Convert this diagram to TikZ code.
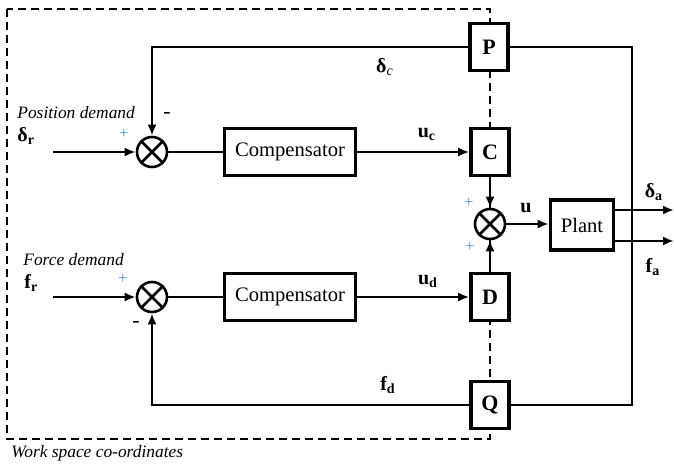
\documentclass[tikz,border=0pt]{standalone}
\usepackage{fontspec}
\setmainfont{Liberation Serif}
\usetikzlibrary{arrows.meta,backgrounds}
\definecolor{plusblue}{rgb}{0.25,0.55,0.85}
\tikzset{
  >={Latex[length=5.5pt,width=4.5pt]},
  block/.style={draw, line width=1.8pt, fill=white, inner sep=0pt, font=\rmfamily\fontsize{10.3}{12}\selectfont},
  gain/.style={block, minimum width=19pt, minimum height=23.5pt, font=\rmfamily\fontsize{11}{13}\selectfont\bfseries},
  comp/.style={block, minimum width=65.5pt, minimum height=23.5pt},
  sumnode/.style={draw, circle, line width=1.3pt, fill=white, minimum size=15pt, inner sep=0pt,
    path picture={\draw[line width=1.3pt]
      (path picture bounding box.north west) -- (path picture bounding box.south east)
      (path picture bounding box.north east) -- (path picture bounding box.south west);}},
  sig/.style={font=\rmfamily\fontsize{10}{12}\selectfont\bfseries, inner sep=0pt},
  note/.style={font=\rmfamily\fontsize{8.7}{10}\selectfont\itshape, inner sep=0pt, anchor=west},
  plus/.style={font=\rmfamily\fontsize{8}{9}\selectfont, text=plusblue, inner sep=0pt},
  minus/.style={font=\rmfamily\fontsize{11}{12}\selectfont, inner sep=0pt},
  wire/.style={line width=1.3pt},
  frame/.style={dash pattern=on 4pt off 2.5pt, line width=0.8pt},
}

\begin{document}
\begin{tikzpicture}[x=0.5pt, y=-0.5pt]
  \useasboundingbox (0,0) rectangle (674,466);
  % summing junctions
  \node[sumnode] (s1) at (152,152) {};
  \node[sumnode] (s2) at (152,297) {};
  \node[sumnode] (s3) at (490,224) {};
  % blocks
  \node[comp] (comp1) at (290,152) {Compensator};
  \node[comp] (comp2) at (290,297) {Compensator};
  \node[gain] (P) at (489,47) {P};
  \node[gain] (C) at (490,152) {C};
  \node[gain] (D) at (490,297) {D};
  \node[gain] (Q) at (490,405) {Q};
  \node[block, minimum width=31.5pt, minimum height=25pt] (plant) at (582,225) {Plant};
  % free ends
  \coordinate (in1) at (53,152);
  \coordinate (in2) at (53,297);
  \coordinate (out1) at (674,210);
  \coordinate (out2) at (674,241);
  \coordinate (rail) at (632,225);
  % work space frame
  \begin{scope}[on background layer]
    \draw[frame] (7,9) rectangle (490,439);
  \end{scope}
  % forward paths
  \draw[wire,->] (in1) -- (s1);
  \draw[wire] (s1) -- (comp1);
  \draw[wire,->] (comp1) -- (C);
  \draw[wire,->] (in2) -- (s2);
  \draw[wire] (s2) -- (comp2);
  \draw[wire,->] (comp2) -- (D);
  \draw[wire,->] (C) -- (s3);
  \draw[wire,->] (D) -- (s3);
  \draw[wire,->] (s3.east) -- (s3.east -| plant.west);
  \draw[wire,->] (plant.east |- out1) -- (out1);
  \draw[wire,->] (plant.east |- out2) -- (out2);
  % feedback paths
  \draw[wire] (P.east) -| (rail) |- (Q.east);
  \draw[wire,->] (P.west) -| (s1.north);
  \draw[wire,->] (Q.west) -| (s2.south);
  % signals
  \node[sig] (uc) at (427,134) {u\textsubscript{c}};
  \node[sig] (ud) at (428,281) {u\textsubscript{d}};
  \node[sig] (u) at (526,208) {u};
  \node[sig] (da) at (654,192) {δ\textsubscript{a}};
  \node[sig] (fa) at (653,267) {f\textsubscript{a}};
  \node[sig] (dc) at (385,67) {δ\textsubscript{\mdseries\itshape c}};
  \node[sig] (fd) at (388,385) {f\textsubscript{d}};
  \node[sig, anchor=west] (dr) at (17,136) {δ\textsubscript{r}};
  \node[sig, anchor=west] (fr) at (24,283) {f\textsubscript{r}};
  \node[note] (posdem) at (17,113) {Position demand};
  \node[note] (forcedem) at (23,260) {Force demand};
  \node[note] (wsc) at (11,453) {Work space co-ordinates};
  % signs
  \node[plus] (p1) at (124,134) {+};
  \node[minus] (m1) at (167,115) {-};
  \node[plus] (p2) at (123,279) {+};
  \node[minus] (m2) at (136,324) {-};
  \node[plus] (p3) at (469,203) {+};
  \node[plus] (p4) at (470,247) {+};
\end{tikzpicture}
\end{document}
